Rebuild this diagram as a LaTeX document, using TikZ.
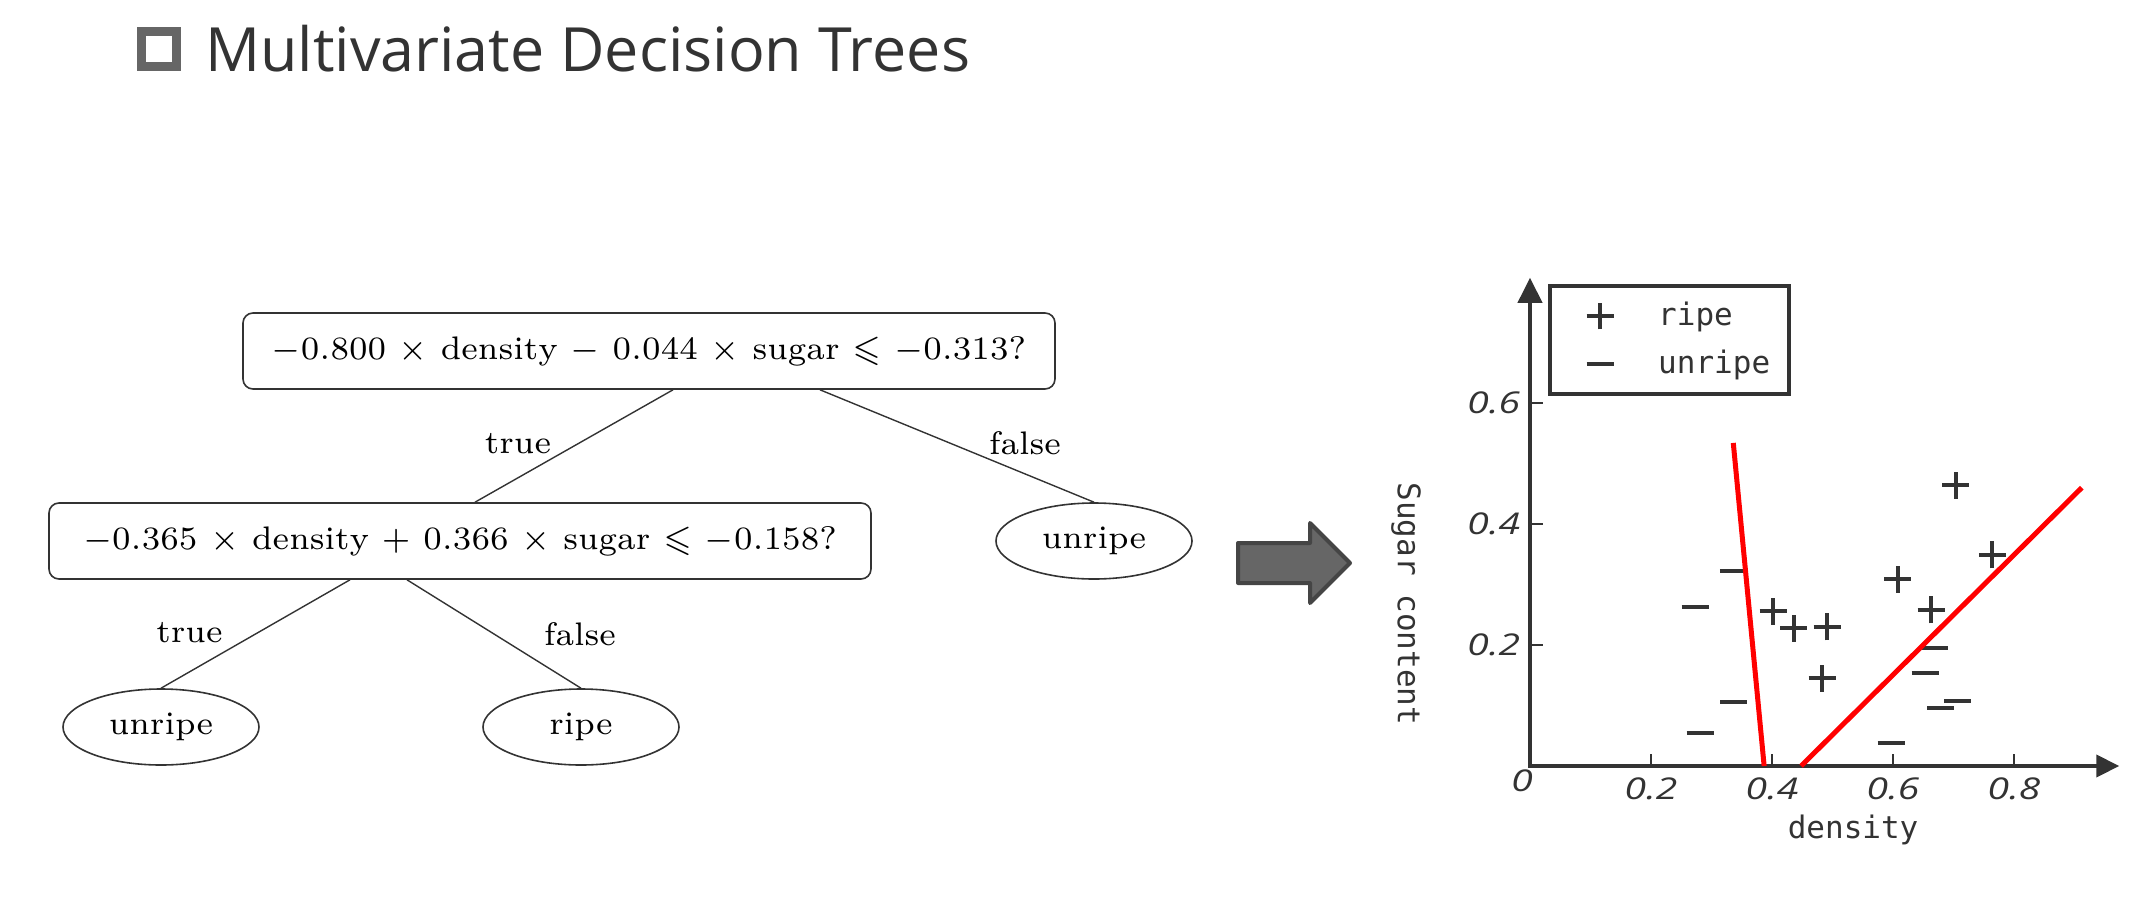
\documentclass[tikz,border=0pt]{standalone}
\usepackage{amssymb}
\usepackage{fontspec}
\newfontfamily\titlefont{Open Sans}
\newfontfamily\tickfont{Open Sans}
\newfontfamily\plotfont{DejaVu Sans Mono}
\usetikzlibrary{positioning}
\usetikzlibrary{shapes.geometric}
\usetikzlibrary{arrows.meta}

\definecolor{ink}{HTML}{333333}
\definecolor{boxgray}{HTML}{666666}
\definecolor{arrowedge}{HTML}{454545}

\newcommand{\treetxt}[1]{\scalebox{4.66}{\fontsize{7}{8.4}\selectfont\medmuskip=6mu\thickmuskip=6mu #1}}
\newcommand{\ticktxt}[1]{\scalebox{1.3}[1]{#1}}

\begin{document}
\begin{tikzpicture}[
x=1pt, y=-1pt,
cond/.style ={rectangle, draw=ink, line width=1.6pt, rounded corners=10pt,
  minimum width=812pt, minimum height=76pt, inner sep=0pt},
leaf/.style ={ellipse, draw=ink, line width=1.6pt,
  minimum width=196pt, minimum height=76pt, inner sep=0pt},
branch/.style ={draw=ink, line width=1.4pt},
lbl/.style ={inner sep=0pt},
axline/.style ={draw=ink, line width=4pt},
axtick/.style ={draw=ink, line width=2pt},
ticklbl/.style ={inner sep=0pt, text=ink, font=\tickfont\itshape\fontsize{30}{36}\selectfont},
plottxt/.style ={inner sep=0pt, text=ink, font=\plotfont\fontsize{31}{36}\selectfont},
markpen/.style ={draw=ink, line width=4pt},
boundary/.style ={draw=red, line width=5pt}
]
\useasboundingbox (0,0) rectangle (2142,897);

% title
\node[draw=boxgray, line width=9pt, minimum size=35pt, inner sep=0pt] (bullet) at (159,49) {};
\node[anchor=base west, inner sep=0pt, text=ink, font=\titlefont\fontsize{61}{70}\selectfont]
  (title) at (205,71) {Multivariate Decision Trees};

% tree
\node[cond] (root) at (649,351)
  {\treetxt{$-0.800\times\mathrm{density}-0.044\times\mathrm{sugar}\leqslant-0.313$?}};
\node[cond, minimum width=822pt] (inner) at (460,541)
  {\treetxt{$-0.365\times\mathrm{density}+0.366\times\mathrm{sugar}\leqslant-0.158$?}};
\node[leaf] (bad1) at (1094,541) {\treetxt{unripe}};
\node[leaf] (bad2) at (161,727) {\treetxt{unripe}};
\node[leaf] (good) at (581,727) {\treetxt{ripe}};

\draw[branch] ([xshift=24pt]root.south) -- node[lbl, xshift=-56pt, yshift=2pt] {\treetxt{true}} ([xshift=15pt]inner.north);
\draw[branch] ([xshift=171pt]root.south) -- node[lbl, xshift=68pt, yshift=3pt] {\treetxt{false}} (bad1.north);
\draw[branch] ([xshift=-110pt]inner.south) -- node[lbl, xshift=-66pt, yshift=1pt] {\treetxt{true}} (bad2.north);
\draw[branch] ([xshift=-53pt]inner.south) -- node[lbl, xshift=86pt] {\treetxt{false}} (good.north);

% big arrow
\draw[fill=boxgray, draw=arrowedge, line width=4pt, line join=round]
  (1238,543) -- (1310,543) -- (1310,523) -- (1350,563) -- (1310,603) -- (1310,583) -- (1238,583) -- cycle;

% plot
\begin{scope}[shift={(1530pt,-766pt)}, x=605pt, y=605pt]
\draw[axline, {Triangle[length=25pt, width=24pt]}-{Triangle[length=23pt, width=22pt]}]
  (0,0.807) -- (0,0) -- (0.974,0);
\foreach \t/\n in {0.2/2,0.4/4,0.6/6,0.8/8}
  \draw[axtick] (\t,0) -- (\t,0.02) node[ticklbl] (xl\n) at (\t,-0.038) {\ticktxt{\t}};
\foreach \t/\n in {0.2/2,0.4/4,0.6/6}
  \draw[axtick] (0,\t) -- (0.0215,\t) node[ticklbl] (yl\n) at (-0.06,\t) {\ticktxt{\t}};
\node[ticklbl] (zero) at (-0.013,-0.025) {\ticktxt{0}};
\node[plottxt] (xlab) at (0.534,-0.106) {density};
\node[plottxt, rotate=-90] (ylab) at (-0.205,0.268) {Sugar content};

% samples
\foreach \px/\py in {0.704/0.464,0.764/0.349,0.608/0.309,0.402/0.256,
                     0.663/0.258,0.436/0.228,0.491/0.230,0.483/0.145}
  \draw[markpen] ({\px-0.0223},\py) -- ({\px+0.0223},\py) (\px,{\py-0.0223}) -- (\px,{\py+0.0223});
\foreach \px/\py in {0.336/0.323,0.273/0.263,0.668/0.195,0.653/0.154,0.337/0.106,
                     0.707/0.107,0.679/0.096,0.281/0.055,0.597/0.038}
  \draw[markpen] ({\px-0.0223},\py) -- ({\px+0.0223},\py);

% split lines
\draw[boundary] (0.336,0.534) -- (0.387,0);
\draw[boundary] (0.448,0) -- (0.912,0.460);

% legend
\node[draw=ink, line width=4pt, minimum width=239pt, minimum height=108pt, inner sep=0pt]
  (legend) at (0.2306,0.7041) {};
\draw[markpen] (0.0934,0.7438) -- (0.1380,0.7438) (0.1157,0.7215) -- (0.1157,0.7661);
\draw[markpen] (0.0934,0.6645) -- (0.1380,0.6645);
\node[plottxt, anchor=base west] (lripe) at (0.2116,0.7273) {ripe};
\node[plottxt, anchor=base west] (lunripe) at (0.2116,0.648) {unripe};
\end{scope}
\end{tikzpicture}
\end{document}
